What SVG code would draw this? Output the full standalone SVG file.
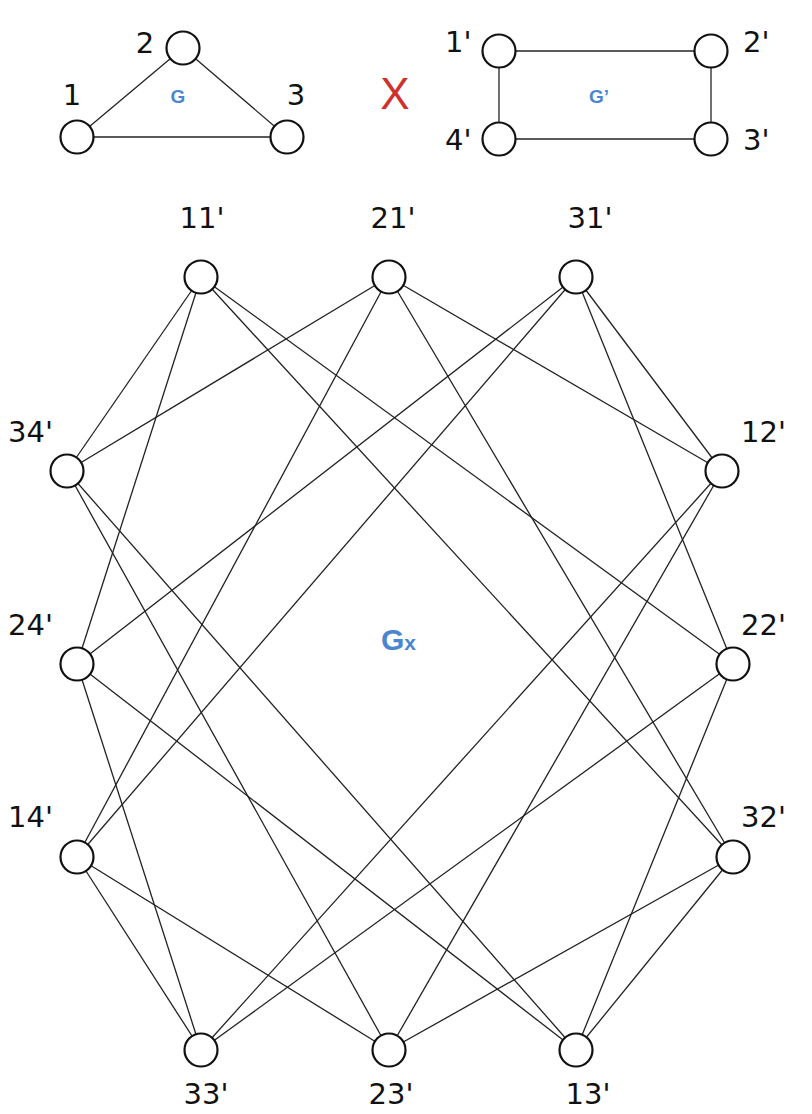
<svg xmlns="http://www.w3.org/2000/svg" width="812" height="1114" viewBox="0 0 812 1114">
<style>
.n{fill:#fff;stroke:#111;stroke-width:2.2}
.e{stroke:#222;stroke-width:1.3;fill:none}
.t{font-family:"DejaVu Sans",sans-serif;font-size:29px;fill:#111}
.b{font-family:"Liberation Sans",Arial,sans-serif;font-weight:bold;fill:#4a86cf}
</style>
<rect width="812" height="1114" fill="#fff"/>
<g id="connectors">
<line class="e" x1="183" y1="48" x2="77" y2="137"/>
<line class="e" x1="183" y1="48" x2="287" y2="137"/>
<line class="e" x1="77" y1="137" x2="287" y2="137"/>
<line class="e" x1="499" y1="51" x2="711" y2="51"/>
<line class="e" x1="711" y1="51" x2="711" y2="139"/>
<line class="e" x1="711" y1="139" x2="499" y2="139"/>
<line class="e" x1="499" y1="139" x2="499" y2="51"/>
<line class="e" x1="201" y1="277" x2="733" y2="664"/>
<line class="e" x1="722" y1="471" x2="389" y2="277"/>
<line class="e" x1="722" y1="471" x2="389" y2="1050"/>
<line class="e" x1="576" y1="1050" x2="733" y2="664"/>
<line class="e" x1="576" y1="1050" x2="77" y2="664"/>
<line class="e" x1="77" y1="857" x2="389" y2="1050"/>
<line class="e" x1="77" y1="857" x2="389" y2="277"/>
<line class="e" x1="201" y1="277" x2="77" y2="664"/>
<line class="e" x1="201" y1="277" x2="733" y2="857"/>
<line class="e" x1="722" y1="471" x2="576" y2="277"/>
<line class="e" x1="722" y1="471" x2="201" y2="1050"/>
<line class="e" x1="576" y1="1050" x2="733" y2="857"/>
<line class="e" x1="576" y1="1050" x2="67" y2="471"/>
<line class="e" x1="77" y1="857" x2="201" y2="1050"/>
<line class="e" x1="77" y1="857" x2="576" y2="277"/>
<line class="e" x1="201" y1="277" x2="67" y2="471"/>
<line class="e" x1="389" y1="277" x2="733" y2="857"/>
<line class="e" x1="733" y1="664" x2="576" y2="277"/>
<line class="e" x1="733" y1="664" x2="201" y2="1050"/>
<line class="e" x1="389" y1="1050" x2="733" y2="857"/>
<line class="e" x1="389" y1="1050" x2="67" y2="471"/>
<line class="e" x1="77" y1="664" x2="201" y2="1050"/>
<line class="e" x1="77" y1="664" x2="576" y2="277"/>
<line class="e" x1="389" y1="277" x2="67" y2="471"/>
</g>
<g id="G">
<g id="g1"><circle class="n" cx="77" cy="137" r="16.5"/><text class="t" x="72" y="105" text-anchor="middle">1</text></g>
<g id="g2"><circle class="n" cx="183" cy="48" r="16.5"/><text class="t" x="145" y="53" text-anchor="middle">2</text></g>
<g id="g3"><circle class="n" cx="287" cy="137" r="16.5"/><text class="t" x="296" y="105" text-anchor="middle">3</text></g>
<text class="b" x="178" y="103" font-size="19" text-anchor="middle">G</text>
</g>
<text id="times" x="395" y="109" font-family="Liberation Sans,Arial,sans-serif" font-size="44" fill="#d0312d" text-anchor="middle">X</text>
<g id="Gp">
<g id="p1"><circle class="n" cx="499" cy="51" r="16.5"/><text class="t" x="445" y="52">1'</text></g>
<g id="p2"><circle class="n" cx="711" cy="51" r="16.5"/><text class="t" x="743" y="52">2'</text></g>
<g id="p3"><circle class="n" cx="711" cy="139" r="16.5"/><text class="t" x="743" y="150">3'</text></g>
<g id="p4"><circle class="n" cx="499" cy="139" r="16.5"/><text class="t" x="445" y="150">4'</text></g>
<text class="b" x="599" y="103" font-size="19" text-anchor="middle">G’</text>
</g>
<g id="n11"><circle class="n" cx="201" cy="277" r="16.5"/><text class="t" x="202" y="228" text-anchor="middle">11'</text></g>
<g id="n21"><circle class="n" cx="389" cy="277" r="16.5"/><text class="t" x="393" y="228" text-anchor="middle">21'</text></g>
<g id="n31"><circle class="n" cx="576" cy="277" r="16.5"/><text class="t" x="590" y="228" text-anchor="middle">31'</text></g>
<g id="n34"><circle class="n" cx="67" cy="471" r="16.5"/><text class="t" x="8" y="442">34'</text></g>
<g id="n12"><circle class="n" cx="722" cy="471" r="16.5"/><text class="t" x="741" y="442">12'</text></g>
<g id="n24"><circle class="n" cx="77" cy="664" r="16.5"/><text class="t" x="8" y="635">24'</text></g>
<g id="n22"><circle class="n" cx="733" cy="664" r="16.5"/><text class="t" x="741" y="635">22'</text></g>
<g id="n14"><circle class="n" cx="77" cy="857" r="16.5"/><text class="t" x="8" y="827">14'</text></g>
<g id="n32"><circle class="n" cx="733" cy="857" r="16.5"/><text class="t" x="741" y="827">32'</text></g>
<g id="n33"><circle class="n" cx="201" cy="1050" r="16.5"/><text class="t" x="206" y="1104" text-anchor="middle">33'</text></g>
<g id="n23"><circle class="n" cx="389" cy="1050" r="16.5"/><text class="t" x="391" y="1104" text-anchor="middle">23'</text></g>
<g id="n13"><circle class="n" cx="576" cy="1050" r="16.5"/><text class="t" x="588" y="1104" text-anchor="middle">13'</text></g>
<text id="Gx" class="b" x="381" y="650" font-size="30">G<tspan font-size="21">x</tspan></text>
</svg>
